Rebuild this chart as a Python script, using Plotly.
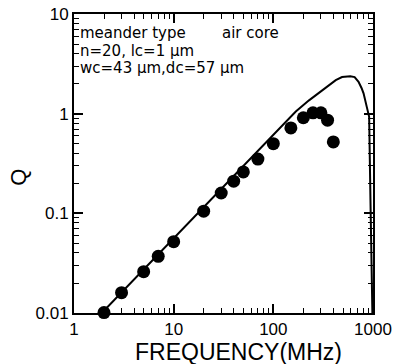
import plotly.graph_objects as go

# measured data points
freq_pts = [2, 3, 5, 7, 10, 20, 30, 40, 50, 70, 100, 150, 200, 250, 300, 350, 400]
q_pts = [0.0101, 0.016, 0.026, 0.037, 0.052, 0.105, 0.16, 0.21, 0.26, 0.35, 0.50,
         0.72, 0.91, 1.02, 1.02, 0.86, 0.52]

# calculated curve
freq_line = [1.9, 10, 47, 113, 168, 228, 287, 361, 423, 489, 592, 654, 716, 767, 804,
             866, 915, 943, 960, 975, 986]
q_line = [0.01, 0.056, 0.28, 0.69, 1.05, 1.36, 1.63, 1.95, 2.17, 2.33, 2.37, 2.33, 2.09,
          1.81, 1.60, 1.17, 0.93, 0.136, 0.04, 0.0135, 0.01]

x_ticks = [1, 10, 100, 1000]
x_ticklabels = ["1", "10", "100", "1000"]
x_minor = [2, 3, 4, 5, 6, 7, 8, 9, 20, 30, 40, 50, 60, 70, 80, 90,
           200, 300, 400, 500, 600, 700, 800, 900]
y_ticks = [0.01, 0.1, 1, 10]
y_ticklabels = ["0.01", "0.1", "1", "10"]
y_minor = [0.02, 0.03, 0.04, 0.05, 0.06, 0.07, 0.08, 0.09,
           0.2, 0.3, 0.4, 0.5, 0.6, 0.7, 0.8, 0.9, 2, 3, 4, 5, 6, 7, 8, 9]

FONT = "Liberation Sans"
NOTE_FONT = "DejaVu Sans"

fig = go.Figure()
fig.add_trace(go.Scatter(x=freq_line, y=q_line, mode="lines",
                         line=dict(color="black", width=2), showlegend=False))
fig.add_trace(go.Scatter(x=freq_pts, y=q_pts, mode="markers",
                         marker=dict(color="black", size=13), showlegend=False,
                         cliponaxis=False))

axis_common = dict(
    type="log", showgrid=False, zeroline=False, showline=True, linecolor="black",
    linewidth=2, mirror="allticks", ticks="inside", ticklen=9, tickwidth=1.5,
    tickcolor="black", tickfont=dict(family=FONT, size=17, color="black"),
    automargin=False, ticklabeloverflow="allow",
)

fig.update_xaxes(range=[0, 3], tickvals=x_ticks, ticktext=x_ticklabels, ticklabelstandoff=0,
                 minor=dict(tickvals=x_minor, ticks="inside", ticklen=5, tickwidth=1,
                            tickcolor="black", showgrid=False),
                 **axis_common)
fig.update_yaxes(range=[-2, 1], tickvals=y_ticks, ticktext=y_ticklabels,
                 minor=dict(tickvals=y_minor, ticks="inside", ticklen=5, tickwidth=1,
                            tickcolor="black", showgrid=False),
                 **axis_common)

L, R, T, B = 73.5, 373, 13.5, 313
def px(x):
    return (x - L) / (R - L)
def py(y):
    return (B - y) / (B - T)

ann_font = dict(family=NOTE_FONT, size=15, color="black")
fig.add_annotation(x=px(78), y=py(33), xref="paper", yref="paper", text="meander type",
                   showarrow=False, xanchor="left", yanchor="middle", font=ann_font)
fig.add_annotation(x=px(220), y=py(33), xref="paper", yref="paper", text="air core",
                   showarrow=False, xanchor="left", yanchor="middle", font=ann_font)
fig.add_annotation(x=px(78), y=py(51), xref="paper", yref="paper", text="n=20, lc=1 μm",
                   showarrow=False, xanchor="left", yanchor="middle", font=ann_font)
fig.add_annotation(x=px(78), y=py(68), xref="paper", yref="paper", text="wc=43 μm,dc=57 μm",
                   showarrow=False, xanchor="left", yanchor="middle", font=ann_font)

fig.add_annotation(x=px(238), y=py(352), xref="paper", yref="paper", text="FREQUENCY(MHz)",
                   showarrow=False, xanchor="center", yanchor="middle",
                   font=dict(family=FONT, size=23, color="black"))
fig.add_annotation(x=px(18), y=py(177), xref="paper", yref="paper", text="Q",
                   showarrow=False, xanchor="center", yanchor="middle", textangle=-90,
                   font=dict(family=FONT, size=22, color="black"))

fig.update_layout(
    width=399, height=364,
    margin=dict(l=L, r=399 - R, t=T, b=364 - B, autoexpand=False),
    paper_bgcolor="white", plot_bgcolor="white",
)

fig.write_html("out.html", config={"displayModeBar": False},
               post_script="document.body.style.margin='0';document.body.style.overflow='hidden';")
